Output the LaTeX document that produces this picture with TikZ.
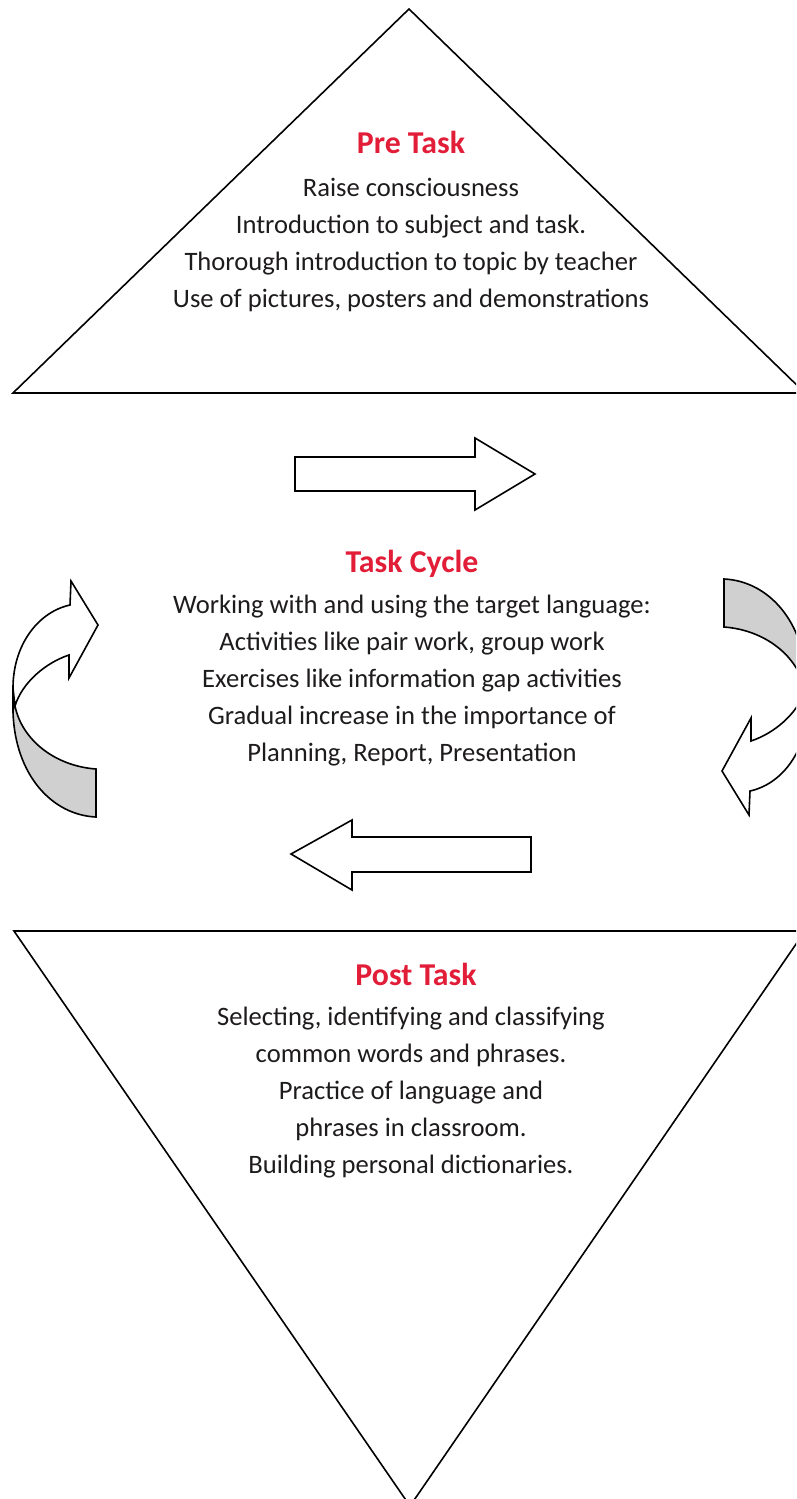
\documentclass[tikz,border=0pt]{standalone}
\usepackage{fontspec}
\setmainfont{Carlito}
\definecolor{headred}{RGB}{226,29,56}
\definecolor{bodytext}{RGB}{30,27,28}
\definecolor{bandgray}{RGB}{208,208,208}
\begin{document}
\begin{tikzpicture}[x=1pt,y=-1pt,
  outline/.style={draw=black,line width=1.6pt,line join=miter},
  headtext/.style={font=\fontsize{31.8}{37}\selectfont\bfseries,text=headred,inner sep=0pt,anchor=base},
  bodyline/.style={font=\fontsize{26.6}{37}\selectfont,text=bodytext,inner sep=0pt,anchor=base}]
\useasboundingbox (0,0) rectangle (796,1499);
\clip (0,0) rectangle (796,1499);
% triangles
\draw[outline] (409,9) -- (805,393) -- (13,393) -- cycle;
\draw[outline] (14,931) -- (805,931) -- (410,1506) -- cycle;
% straight arrows
\draw[outline,fill=white] (295,457) -- (475,457) -- (475,438) -- (535,474) -- (475,510) -- (475,491) -- (295,491) -- cycle;
\draw[outline,fill=white] (531,837) -- (352,837) -- (352,820) -- (291,854) -- (352,890) -- (352,872) -- (531,872) -- cycle;
% curved arrows
\foreach \rot/\nm in {0/left,180/right}{
  \begin{scope}[rotate around={\rot:(410,698)}]
  \draw[outline,fill=bandgray] (13,685) -- (13,712) .. controls (15,775) and (52,815) .. (96,817) -- (96,769) .. controls (55,766) and (22,740) .. (15,706) -- (13,685);
  \draw[outline,fill=white] (13,688) .. controls (13,645) and (38,612) .. (70,605) -- (71,581) -- (98,625) -- (69,678) -- (69,655) .. controls (45,663) and (22,683) .. (15,706) -- cycle;
  \end{scope}
}
% texts
\node[headtext] (pre) at (411,153) {Pre Task};
\foreach \t [count=\i] in {{Raise consciousness},{Introduction to subject and task.},{Thorough introduction to topic by teacher},{Use of pictures, posters and demonstrations}}
  \node[bodyline] (pre\i) at (411,{196+37*(\i-1)}) {\t};
\node[headtext] (cycle) at (412,572) {Task Cycle};
\foreach \t [count=\i] in {{Working with and using the target language:},{Activities like pair work, group work},{Exercises like information gap activities},{Gradual increase in the importance of},{Planning, Report, Presentation}}
  \node[bodyline] (cycle\i) at (412,{613+37*(\i-1)}) {\t};
\node[headtext] (post) at (416,985) {Post Task};
\foreach \t [count=\i] in {{Selecting, identifying and classifying},{common words and phrases.},{Practice of language and},{phrases in classroom.},{Building personal dictionaries.}}
  \node[bodyline] (post\i) at (411,{1025+37*(\i-1)}) {\t};
\end{tikzpicture}
\end{document}
